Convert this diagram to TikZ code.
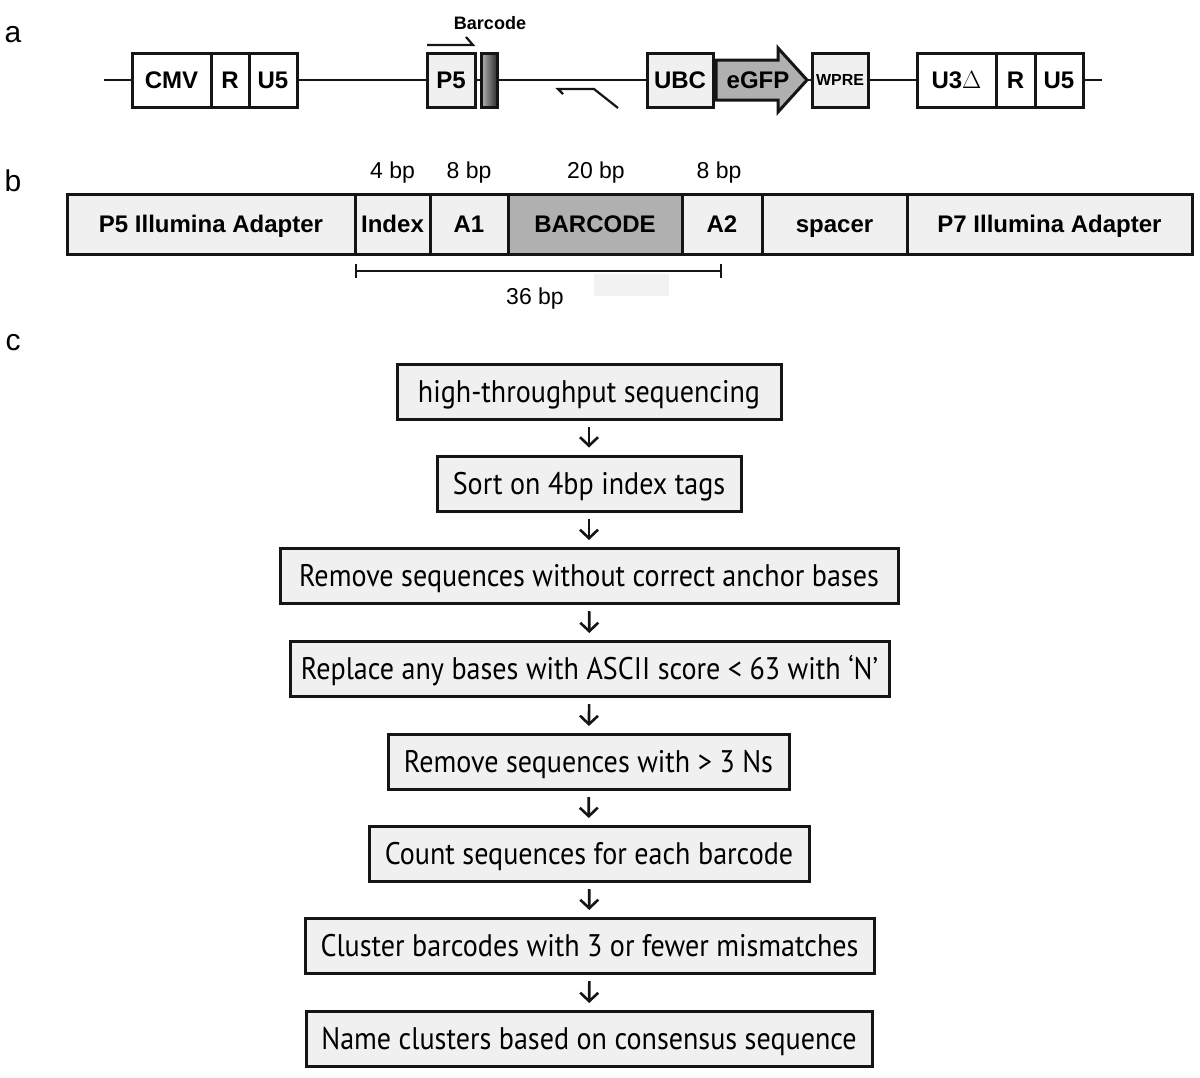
\documentclass[tikz,border=0pt]{standalone}
\usepackage{fontspec}
\setmainfont{Liberation Sans}
\newfontfamily\flowfont[FakeStretch=0.9]{PT Sans}
\usetikzlibrary{arrows.meta,calc}
\definecolor{lightfill}{HTML}{F0F0F0}
\definecolor{darkfill}{HTML}{B0B0B0}
\definecolor{edge}{HTML}{151515}
\begin{document}
\begin{tikzpicture}[x=1pt,y=-1pt,
  gbox/.style={draw=edge, line width=3pt, inner sep=0pt, minimum height=54pt,
    text height=17.2pt, text depth=0pt,
    font=\bfseries\fontsize{24}{28}\selectfont},
  bcell/.style={draw=edge, line width=3pt, inner sep=0pt, minimum height=60pt,
    text height=17.2pt, text depth=0pt,
    fill=lightfill, font=\bfseries\fontsize{24}{28}\selectfont},
  fbox/.style={draw=edge, line width=3pt, fill=lightfill, inner sep=0pt,
    minimum height=55pt, text height=21.5pt, text depth=0pt,
    font=\flowfont\fontsize{31.2}{36}\selectfont},
  farrow/.style={draw=edge, line width=2.6pt, -{Straight Barb[length=8.5pt,width=18pt]},
    shorten <=6pt, shorten >=7pt},
  bb/.style={draw=edge, line width=2.8pt},
  primer/.style={draw=edge, line width=2.2pt},
  plabel/.style={font=\fontsize{30}{34}\selectfont},
  bplabel/.style={font=\fontsize{23}{27}\selectfont}]
\useasboundingbox (0,0) rectangle (1200,1077);

% panel labels
\node[plabel] (la) at (13,35) {a};
\node[plabel] (lb) at (13,181) {b};
\node[plabel] (lc) at (13,343) {c};

% ---------- panel a ----------
\coordinate (Lend) at (104,80);
\coordinate (Rend) at (1102,80);
\node[gbox, minimum width=79pt] (cmv) at (171.5,80) {CMV};
\node[gbox, minimum width=38pt] (r1) at (230,80) {R};
\node[gbox, minimum width=48pt] (u51) at (273,80) {U5};
\node[gbox, minimum width=48pt, fill=lightfill] (p5) at (451,80) {P5};
\node[gbox, minimum width=16pt, left color=black!28, right color=black!82] (bc) at (489,80) {};
\node[gbox, minimum width=66pt, fill=lightfill] (ubc) at (680,80) {UBC};
\coordinate (gL) at (716,80);
\coordinate (gR) at (807,80);
\draw[draw=edge, line width=3pt, fill=darkfill, line join=miter]
  (716,60) -- (778,60) -- (778,48) -- (807,80) -- (778,112) -- (778,100) -- (716,100) -- cycle;
\node[font=\bfseries\fontsize{24}{28}\selectfont, text height=17.2pt, text depth=0pt] (egfp) at (758,80) {eGFP};
\node[gbox, minimum width=56pt, fill=lightfill, text height=11.5pt, font=\bfseries\fontsize{16}{19}\selectfont] (wpre) at (840,80) {WPRE};
\node[gbox, minimum width=79pt] (u3) at (956.5,80) {U3$\Delta$};
\node[gbox, minimum width=39pt] (r2) at (1015.5,80) {R};
\node[gbox, minimum width=48pt] (u52) at (1059,80) {U5};

\draw[bb] (Lend) -- (cmv.west);
\draw[bb] (u51.east) -- (p5.west);
\draw[bb] (p5.east) -- (bc.west);
\draw[bb] (bc.east) -- (ubc.west);
\draw[bb] (ubc.east) -- (gL);
\draw[bb] (gR) -- (wpre.west);
\draw[bb] (wpre.east) -- (u3.west);
\draw[bb] (u52.east) -- (Rend);

% primers
\draw[primer] (427,45) -- (473,45) -- (466,37);
\draw[primer] (563,94) -- (558,89) -- (594,89) -- (618,108);
\node[font=\bfseries\fontsize{18}{21}\selectfont] (bclab) at (490,23) {Barcode};

% ---------- panel b ----------
\node[bcell, minimum width=288pt] (p5a) at (211,224) {P5 Illumina Adapter};
\node[bcell, minimum width=75pt] (idx) at (392.5,224) {Index};
\node[bcell, minimum width=78pt] (a1) at (469,224) {A1};
\node[bcell, minimum width=174pt, fill=darkfill] (bar) at (595,224) {BARCODE};
\node[bcell, minimum width=80pt] (a2) at (722,224) {A2};
\node[bcell, minimum width=145pt] (sp) at (834.5,224) {spacer};
\node[bcell, minimum width=285pt] (p7a) at (1049.5,224) {P7 Illumina Adapter};

\node[bplabel] (l4) at (392.5,173) {4 bp};
\node[bplabel] (l8a) at (469,173) {8 bp};
\node[bplabel] (l20) at (596,173) {20 bp};
\node[bplabel] (l8b) at (719,173) {8 bp};

\fill[black!5] (594,274) rectangle (669,296);
\coordinate (d1) at (355,271);
\coordinate (d2) at (722,271);
\draw[draw=edge, line width=2.2pt, {Bar[width=14pt]}-{Bar[width=14pt]}] (d1) -- (d2);
\node[bplabel] (l36) at (535,299) {36 bp};

% ---------- panel c ----------
\node[fbox, minimum width=384pt] (s1) at (589,392) {high-throughput sequencing};
\node[fbox, minimum width=304pt] (s2) at (589,483.5) {Sort on 4bp index tags};
\node[fbox, minimum width=618pt] (s3) at (589,576) {Remove sequences without correct anchor bases};
\node[fbox, minimum width=599pt] (s4) at (589.5,669) {Replace any bases with ASCII score < 63 with ‘N’};
\node[fbox, minimum width=401pt] (s5) at (588.5,762) {Remove sequences with > 3 Ns};
\node[fbox, minimum width=440pt] (s6) at (589,854) {Count sequences for each barcode};
\node[fbox, minimum width=569pt] (s7) at (589.5,946) {Cluster barcodes with 3 or fewer mismatches};
\node[fbox, minimum width=566pt] (s8) at (589,1039) {Name clusters based on consensus sequence};

\draw[farrow] (s1) -- (s2);
\draw[farrow] (s2) -- (s3);
\draw[farrow] (s3) -- (s4);
\draw[farrow] (s4) -- (s5);
\draw[farrow] (s5) -- (s6);
\draw[farrow] (s6) -- (s7);
\draw[farrow] (s7) -- (s8);
\end{tikzpicture}
\end{document}
